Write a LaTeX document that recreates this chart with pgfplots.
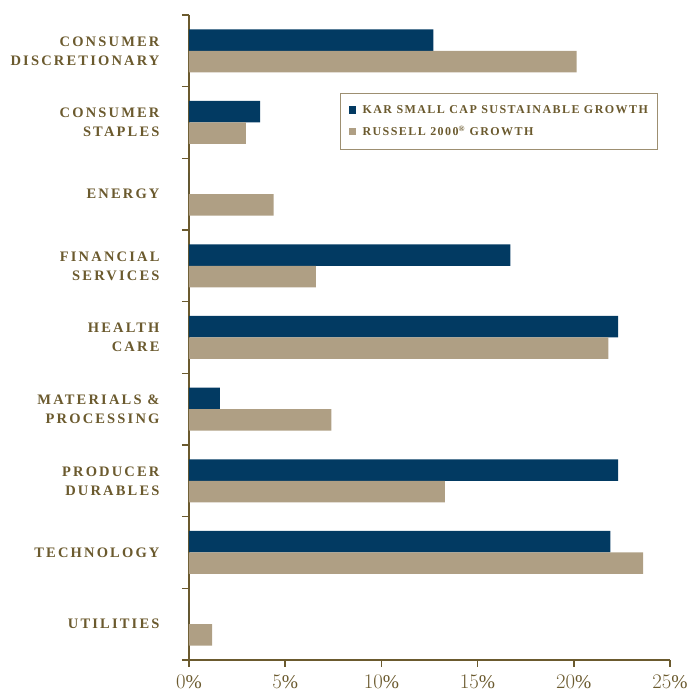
\documentclass[border=0pt]{standalone}
\usepackage{pgfplots}
\pgfplotsset{compat=1.18}
\usepackage{fontspec}
\setmainfont{Liberation Serif}
\newfontfamily\catfont[LetterSpace=15]{Liberation Serif}
\newfontfamily\lgdfont[LetterSpace=12]{Liberation Serif}
\definecolor{kar}{HTML}{023A62}
\definecolor{rus}{HTML}{AF9F84}
\definecolor{brn}{HTML}{6B5A2E}
\definecolor{lgd}{HTML}{9D8F71}
\begin{document}
\begin{tikzpicture}[x=1pt,y=1pt]
\path[use as bounding box] (-189,-33) rectangle (510,660);
\begin{axis}[
  at={(0,0)}, anchor=south west,
  scale only axis, width=481pt, height=645pt,
  xbar, bar width=21.5pt,
  xmin=0, xmax=25, ymin=-0.5, ymax=8.5,
  axis lines*=left,
  axis line style={draw=brn, line width=2pt},
  tick style={draw=brn, line width=1.6pt},
  tick align=outside, major tick length=7pt,
  xtick={0,5,...,25},
  xticklabel={\pgfmathprintnumber{\tick}\%},
  x tick label style={font=\fontsize{19.5}{21}\selectfont, text=brn, yshift=-5pt},
  ytick={-0.5,0.5,...,8.5}, yticklabel={\relax},
  extra y ticks={0,1,2,3,4,5,6,7,8},
  extra y tick labels={UTILITIES,TECHNOLOGY,{PRODUCER\\DURABLES},{MATERIALS \&\\PROCESSING},{HEALTH\\CARE},{FINANCIAL\\SERVICES},ENERGY,{CONSUMER\\STAPLES},{CONSUMER\\DISCRETIONARY}},
  extra y tick style={major tick length=0pt, yticklabel style={align=right, font=\catfont\bfseries\fontsize{14.5}{19}\selectfont, text=brn, xshift=-26pt}},
  legend style={at={(rel axis cs:0.314,0.879)}, anchor=north west, draw=lgd, line width=1pt,
    font=\lgdfont\bfseries\fontsize{12}{14}\selectfont, text=brn, inner xsep=8pt, inner ysep=10pt,
    row sep=7pt},
  legend cell align=left,
  legend image code/.code={\fill[#1] (0pt,-3.8pt) rectangle (7.6pt,3.8pt); \path (12pt,0pt);},
]
\addplot[fill=kar, draw=none, bar shift=10.75pt] coordinates {
(0,0) (21.9,1) (22.3,2) (1.6,3) (22.3,4) (16.7,5) (0,6) (3.7,7) (12.7,8)};
\addplot[fill=rus, draw=none, bar shift=-10.75pt] coordinates {
(1.2,0) (23.6,1) (13.3,2) (7.4,3) (21.8,4) (6.6,5) (4.4,6) (2.95,7) (20.15,8)};
\legend{KAR SMALL CAP SUSTAINABLE GROWTH, RUSSELL 2000\textsuperscript{®} GROWTH}
\end{axis}
\end{tikzpicture}
\end{document}
